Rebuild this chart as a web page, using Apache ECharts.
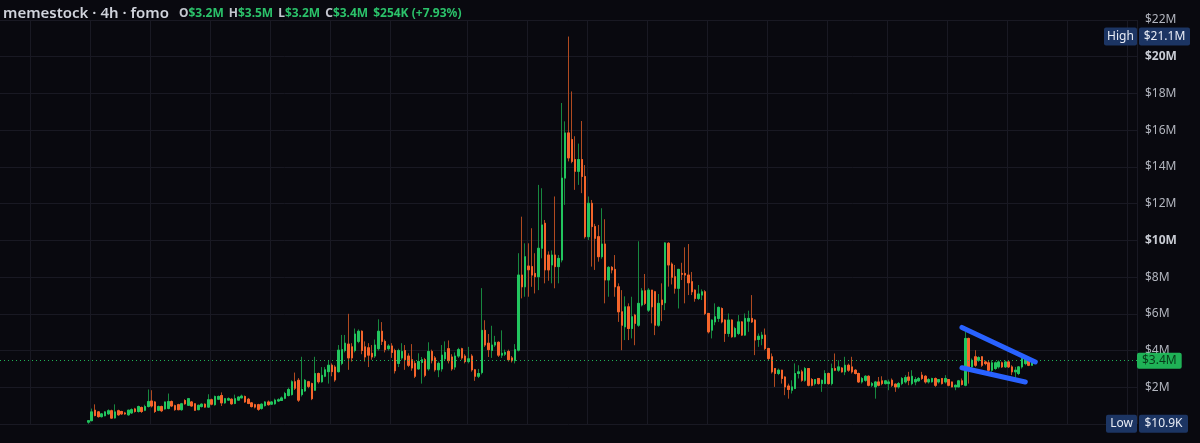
<!DOCTYPE html>
<html>
<head>
<meta charset="utf-8">
<title>memestock · 4h · fomo</title>
<script src="https://cdn.jsdelivr.net/npm/echarts@6/dist/echarts.min.js"></script>
<style>
  html, body { margin: 0; padding: 0; background: #09090f; }
  #chart { width: 1200px; height: 443px; }
</style>
</head>
<body>
<div id="chart"></div>
<script>
// candles in $M, each [open, close, low, high]
const accumulation = [
  [0.10,0.18,0.01,0.20],[0.18,0.66,0.15,0.84],[0.75,0.46,0.42,1.07],[0.66,0.40,0.35,0.70],
  [0.40,0.55,0.35,0.60],[0.45,0.66,0.42,0.70],[0.55,0.72,0.50,0.80],[0.72,0.32,0.30,0.78],
  [0.33,0.66,0.30,1.07],[0.72,0.50,0.45,0.78],[0.68,0.55,0.50,0.72],[0.60,0.55,0.50,0.66],
  [0.50,0.75,0.45,0.78],[0.60,0.78,0.55,0.85],[0.82,0.68,0.62,0.88],[0.68,0.95,0.62,1.00],
  [0.90,0.68,0.60,0.95],[0.75,0.95,0.70,1.05],[0.95,1.22,0.90,1.88],[1.25,0.98,0.90,1.84],
  [1.20,0.68,0.60,1.25],[0.75,0.95,0.70,1.00],[0.95,0.72,0.65,1.00],[0.82,1.20,0.78,1.22],
  [0.85,1.22,0.80,1.66],[1.22,0.98,0.92,1.28],[1.00,0.78,0.72,1.05],[1.05,0.78,0.75,1.10],
  [0.78,1.10,0.72,1.15],[1.28,1.10,1.05,1.35],[1.02,1.38,0.98,1.42],[1.20,0.98,0.95,1.25],
  [1.10,0.75,0.72,1.12],[0.78,1.02,0.75,1.05],[0.95,1.08,0.90,1.12],[1.08,0.92,0.88,1.12],
  [0.92,1.32,0.90,1.62],[1.32,1.08,1.02,1.38],[1.05,1.50,1.00,1.55],[1.35,1.50,1.30,1.55],
  [1.55,1.15,0.98,1.72],[1.15,1.38,1.10,1.42],[1.30,1.38,1.25,1.45],[1.35,1.10,1.05,1.40],
  [1.12,1.38,1.08,1.60],[1.30,1.47,1.28,1.50],[1.42,1.52,1.40,1.60],[1.50,1.20,1.15,1.55],
  [1.35,1.12,1.08,1.42],[1.15,0.95,0.90,1.20],[1.05,0.92,0.85,1.10],[1.05,0.80,0.72,1.10],
  [0.85,1.08,0.78,1.12],[1.00,1.20,0.95,1.25],[1.20,1.05,1.00,1.28],[1.08,1.20,1.05,1.25],
  [1.10,1.30,1.05,1.38],[1.25,1.32,1.20,1.40],[1.28,1.42,1.25,1.50],[1.40,1.66,1.35,1.75],
  [1.55,1.88,1.50,1.98],[1.60,2.30,1.55,2.38],[2.30,1.95,1.85,2.80],[2.38,1.30,1.20,2.50],
  [1.60,1.88,1.50,3.66],[1.80,2.38,1.75,2.45],[2.30,2.05,1.95,2.35],[2.20,1.38,1.30,2.25],
  [1.84,2.75,1.80,3.66],[2.75,2.30,2.20,2.80],[2.30,2.65,2.25,3.10]
];
const breakout = [
  [2.60,2.95,2.55,3.10],[2.85,3.20,2.20,3.48],[3.20,2.85,2.60,3.30],[3.10,2.40,2.30,3.20],
  [2.85,4.02,2.80,4.30],[3.30,4.05,3.20,4.85],[4.00,4.40,3.90,4.85],[4.35,3.60,2.95,6.00],
  [4.20,3.60,3.40,4.40],[4.00,4.90,3.90,5.20],[4.50,5.05,4.40,5.15],[5.05,4.00,3.80,5.10],
  [4.20,3.65,3.40,4.50],[4.15,3.75,3.10,4.40],[3.85,3.65,3.50,4.30],[3.70,4.30,3.60,4.60],
  [4.10,5.05,4.00,5.70],[5.05,4.50,4.30,5.55],[4.50,4.05,3.90,4.60],[4.10,4.25,4.00,4.35],
  [4.25,3.90,3.60,4.40],[4.00,2.90,2.75,4.10],[3.30,4.00,3.10,4.10],[3.60,3.95,3.50,4.40],
  [4.00,3.50,2.95,4.30],[3.70,3.20,3.10,3.85],[3.50,3.05,2.90,4.35],[3.30,2.60,2.50,3.45],
  [3.00,3.40,2.95,3.85],[3.35,3.50,2.20,3.65],[3.50,2.65,2.55,3.60],[3.00,3.95,2.90,4.45],
  [3.95,3.45,3.30,4.05],[3.60,2.95,2.85,3.70],[2.95,3.30,2.55,3.40],[3.00,3.75,2.85,4.30],
  [3.55,3.90,3.45,4.50],[4.10,3.45,3.30,4.55],[3.65,3.00,2.90,3.80],[3.10,3.70,2.95,3.90],
  [3.70,4.05,3.60,4.15],[4.10,3.60,3.50,4.15],[3.70,3.40,3.30,3.80],[3.40,3.55,3.30,4.20],
  [3.70,2.95,2.85,3.80],[2.95,2.60,2.35,3.00],[2.60,2.75,2.50,3.00],[2.80,5.10,2.70,7.40],
  [5.10,4.30,4.20,5.65],[4.40,4.05,3.65,4.90],[4.00,4.30,3.60,5.35],[4.30,4.45,4.20,4.80],
  [4.45,3.75,3.65,4.50],[3.75,3.85,3.60,5.10],[3.80,3.90,3.70,4.05],[3.95,3.50,3.40,4.05],
  [3.60,3.45,3.35,3.70],[3.45,4.05,3.30,4.35]
];
const pump = [
  [4.02,8.11,3.95,9.30],[8.11,7.47,6.84,11.29],[7.47,9.11,6.93,9.84],[8.60,8.40,6.93,9.84],
  [8.57,8.11,7.47,10.66],[8.20,8.02,7.11,9.30],[8.02,9.57,7.29,13.02],[9.57,10.84,9.02,12.84],
  [10.93,8.39,7.66,11.11],[9.20,8.39,7.80,9.40],[8.66,9.20,7.66,9.45],[9.20,8.57,7.39,12.39],
  [8.57,9.02,7.66,9.20],[8.93,13.39,8.80,17.48],[13.39,15.85,11.93,16.48],[15.85,14.49,14.30,21.10],
  [15.49,14.30,14.20,18.11],[14.40,13.76,12.75,15.67],[13.76,14.40,13.02,15.27],[14.40,13.48,12.57,16.50],
  [13.48,10.20,10.10,14.10],[10.20,12.02,10.02,12.39],[12.02,10.75,8.57,12.20],[10.75,10.11,8.39,10.90],
  [10.20,9.11,8.84,10.84],[9.11,9.80,9.00,11.75],[9.80,7.84,6.57,11.15],[7.84,8.53,6.93,8.60],
  [8.53,8.39,8.20,8.60],[8.42,7.47,6.93,9.20],[7.47,6.11,5.56,7.66],[6.11,5.38,4.02,7.29],
  [5.29,6.38,4.57,6.95],[6.38,5.20,4.57,6.57],[5.20,5.84,4.66,6.93],[5.93,5.48,4.29,6.00],
  [5.38,6.57,5.29,9.95],[6.48,7.25,6.40,7.40],[7.25,6.57,6.48,8.17],[6.20,7.29,6.10,7.40]
];
const bleed = [
  [7.29,6.38,5.48,7.30],[7.20,5.38,4.84,7.25],[5.38,6.57,5.29,7.08],[6.75,6.50,5.60,7.66],
  [6.60,9.86,6.20,9.90],[9.84,8.66,7.48,9.90],[8.71,7.99,7.60,8.80],[8.02,7.39,7.10,8.66],
  [7.39,8.42,6.29,8.45],[8.20,8.15,7.84,8.78],[8.20,8.11,6.57,9.62],[8.11,7.69,7.02,9.80],
  [7.75,7.20,7.02,8.28],[7.29,6.84,6.66,7.33],[6.84,7.08,6.75,7.57],[7.02,7.20,6.75,7.33],
  [7.20,6.02,5.93,7.29],[6.02,5.02,4.93,6.05],[5.11,5.66,4.66,5.70],[5.56,5.84,5.38,6.57],
  [5.75,6.35,5.56,6.40],[6.29,5.56,5.48,6.35],[5.66,4.93,4.47,5.70],[4.93,5.66,4.75,6.02],
  [5.66,4.75,4.70,5.70],[4.75,5.20,4.72,5.29],[4.93,5.56,4.84,5.93],[5.56,4.84,4.80,5.60],
  [4.84,5.75,4.80,6.02],[5.60,5.75,5.02,6.17],[5.75,5.56,5.50,7.02],[5.66,4.57,3.75,5.70],
  [4.60,4.78,4.20,4.93],[4.66,4.84,4.29,5.02],[4.84,4.11,4.02,5.20],[4.11,3.57,3.47,4.15],
  [3.66,2.84,2.75,3.84],[3.02,2.75,2.02,3.05],[2.75,2.93,2.66,3.02],[2.93,2.48,2.20,2.95],
  [2.56,2.02,1.57,2.60],[2.07,1.88,1.38,2.20],[1.84,2.02,1.66,2.38],[1.93,2.75,1.90,3.30],
  [2.75,2.84,2.48,3.20]
];
const base = [
  [2.84,2.38,2.30,2.95],[2.38,3.02,2.30,3.10],[3.02,2.11,2.05,3.05],[2.42,2.11,2.05,2.50],
  [2.20,2.42,2.10,2.45],[2.48,2.20,2.15,2.50],[2.20,2.38,1.75,2.42],[2.20,2.75,2.17,2.93],
  [2.75,2.20,2.15,2.80],[2.20,3.02,2.10,3.29],[3.02,2.93,2.88,3.84],[2.93,3.11,2.84,3.47],
  [3.05,2.84,2.80,3.10],[2.84,3.20,2.66,3.66],[3.20,2.93,2.84,3.29],[3.11,2.84,2.75,3.66],
  [2.93,2.75,2.70,2.98],[2.75,2.29,2.24,2.80],[2.29,2.48,2.20,2.56],[2.38,2.60,2.30,2.66],
  [2.60,2.11,2.05,2.65],[2.11,2.20,2.02,2.29],[2.02,2.29,1.38,2.35],[2.29,2.11,2.05,2.56],
  [2.35,2.20,2.11,2.60],[2.20,2.35,2.15,2.40],[2.20,2.29,1.84,2.42],[2.38,2.11,2.02,2.48],
  [2.17,2.02,1.75,2.20],[2.02,2.20,1.93,2.29],[2.20,2.48,2.11,2.56],[2.29,2.53,2.20,2.66],
  [2.56,2.38,2.11,2.84],[2.20,2.60,2.11,2.93],[2.29,2.42,2.11,2.56],[2.35,2.48,2.30,2.56],
  [2.66,2.48,2.40,2.84],[2.60,2.29,2.20,2.66],[2.29,2.42,2.20,2.50],[2.30,2.48,2.25,2.52],
  [2.48,2.11,2.02,2.53],[2.29,2.42,2.20,2.45],[2.48,2.20,2.15,2.50],[2.29,2.48,2.20,2.66],
  [2.42,2.11,2.05,2.45],[2.29,2.02,2.00,2.30],[2.02,2.11,1.84,2.15],[2.02,2.35,2.00,2.40],
  [2.35,2.15,2.10,2.48],[2.11,4.66,2.05,5.02],[4.66,3.11,2.20,4.70],[3.11,3.47,3.02,3.57],
  [3.66,3.20,3.11,4.02],[3.47,3.62,3.38,3.69],[3.66,3.20,3.11,3.69],[3.38,3.29,3.20,3.45],
  [3.33,2.93,2.84,3.47],[2.93,3.33,2.84,3.47],[3.02,3.33,2.95,3.40],[3.11,3.38,3.02,3.47],
  [3.33,3.11,3.05,3.40],[3.11,3.38,3.05,3.45],[3.38,3.11,3.05,3.42],[3.11,2.84,2.66,3.20],
  [2.84,2.93,2.38,3.11],[2.75,3.11,2.66,3.15],[3.11,3.57,3.02,3.66],[3.29,3.66,3.20,3.75],
  [3.47,3.20,3.15,3.55],[3.20,3.45,3.20,3.50]
];

// drawn trend lines: [bar index, price $M]
const trendUpper = [[288, 5.26], [310, 3.38]];
const trendLower = [[288, 3.06], [307, 2.29]];

const lastClose = 3.45;
const allTimeHigh = 21.1;
const allTimeLow = 0.0109;

// bar slots on the axis (empty slots left and right of the history)
const leadSlots = 26;
const totalSlots = 341;
// slot indexes where the 3-day vertical grid lines fall
const dayMarks = [9, 27, 45, 63, 81, 99, 117, 140, 158, 176, 194, 212, 230, 248, 266, 284, 302, 320, 338];

const candles = [].concat(accumulation, breakout, pump, bleed, base);

const categories = [];
const t0 = Date.UTC(2024, 0, 1, 0);
for (let i = 0; i < totalSlots; i++) {
    const d = new Date(t0 + i * 4 * 3600 * 1000);
    categories.push(d.toISOString().slice(0, 13) + 'h');
}

const green = '#22c55e', orange = '#f5652b';
const greenWick = '#17873f', orangeWick = '#b04a20';
const tagBlue = '#1c3563';

const fullData = candles.map((c, j) => [leadSlots + j, c[0], c[1], c[2], c[3]]);
const bodyData = candles.map((c, j) => [leadSlots + j, c[0], c[1], Math.min(c[0], c[1]), Math.max(c[0], c[1])]);

const font = 'Noto Sans';

function tag(w) {
    return {
        fontFamily: font, fontSize: 12, color: '#e8ecf5', backgroundColor: tagBlue,
        width: w, height: 18, lineHeight: 18, align: 'center', borderRadius: 2
    };
}

const chart = echarts.init(document.getElementById('chart'));
chart.setOption({
    backgroundColor: '#09090f',
    animation: false,
    title: {
        left: 3,
        top: 5,
        padding: 0,
        text: '{n|memestock · 4h · fomo}  {k|O}{v|$3.2M} {k|H}{v|$3.5M} {k|L}{v|$3.2M} {k|C}{v|$3.4M} {v|$254K (+7.93%)}',
        textStyle: {
            rich: {
                n: { fontFamily: font, fontSize: 15, color: '#d1d4dc', fontWeight: 600 },
                k: { fontFamily: font, fontSize: 12, color: '#c3c6ce' },
                v: { fontFamily: font, fontSize: 12, color: '#2bc26a' }
            }
        }
    },
    grid: { left: 0, right: 63, top: 20, bottom: 19 },
    xAxis: {
        type: 'category',
        data: categories,
        axisLine: { show: false },
        axisTick: { show: false },
        axisLabel: { show: false },
        splitLine: {
            show: true,
            interval: idx => dayMarks.indexOf(idx) >= 0,
            lineStyle: { color: '#191923', width: 1 }
        }
    },
    yAxis: {
        type: 'value',
        position: 'right',
        min: 0,
        max: 22,
        interval: 2,
        axisLine: { show: false },
        axisTick: { show: false },
        splitLine: { lineStyle: { color: '#191923', width: 1 } },
        axisLabel: {
            margin: 8,
            color: '#b2b5be',
            fontFamily: font,
            fontSize: 12,
            formatter: v => v === 0 ? '' : (v % 10 === 0 ? '{b|$' + v + 'M}' : '$' + v + 'M'),
            rich: { b: { fontFamily: font, fontSize: 12, fontWeight: 'bold', color: '#c9ccd4' } }
        }
    },
    series: [
        {
            name: 'wicks',
            type: 'candlestick',
            data: fullData,
            encode: { x: 0, y: [1, 2, 3, 4] },
            barWidth: 2,
            itemStyle: {
                color: greenWick, color0: orangeWick,
                borderColor: greenWick, borderColor0: orangeWick,
                borderWidth: 1
            },
            markLine: {
                silent: true,
                symbol: 'none',
                animation: false,
                data: [
                    {
                        yAxis: lastClose,
                        lineStyle: { color: green, type: [1, 3], width: 1, opacity: 0.9 },
                        label: {
                            position: 'end', distance: 0,
                            formatter: '$3.4M',
                            fontFamily: font, fontSize: 12, color: '#052e14',
                            backgroundColor: green, padding: [2, 5], borderRadius: 2
                        }
                    },
                    {
                        yAxis: allTimeHigh,
                        lineStyle: { color: 'rgba(0,0,0,0)', width: 0 },
                        label: {
                            show: true,
                            position: 'end', distance: 0, offset: [-33, 0],
                            formatter: '{t|High}{g|}{v|$21.1M}',
                            rich: { t: tag(33), g: { width: 2 }, v: tag(51) }
                        }
                    },
                    {
                        yAxis: allTimeLow,
                        lineStyle: { color: 'rgba(0,0,0,0)', width: 0 },
                        label: {
                            show: true,
                            position: 'end', distance: 0, offset: [-31, 0],
                            formatter: '{t|Low}{g|}{v|$10.9K}',
                            rich: { t: tag(31), g: { width: 2 }, v: tag(49) }
                        }
                    }
                ]
            }
        },
        {
            name: 'bodies',
            type: 'candlestick',
            data: bodyData,
            encode: { x: 0, y: [1, 2, 3, 4] },
            barWidth: 2,
            itemStyle: {
                color: green, color0: orange,
                borderColor: green, borderColor0: orange,
                borderWidth: 1
            }
        },
        {
            type: 'line',
            data: trendUpper,
            symbol: 'none',
            z: 5,
            lineStyle: { color: '#2962ff', width: 5, cap: 'round' }
        },
        {
            type: 'line',
            data: trendLower,
            symbol: 'none',
            z: 5,
            lineStyle: { color: '#2962ff', width: 5, cap: 'round' }
        }
    ]
});
window.addEventListener('resize', () => chart.resize());
</script>
</body>
</html>
